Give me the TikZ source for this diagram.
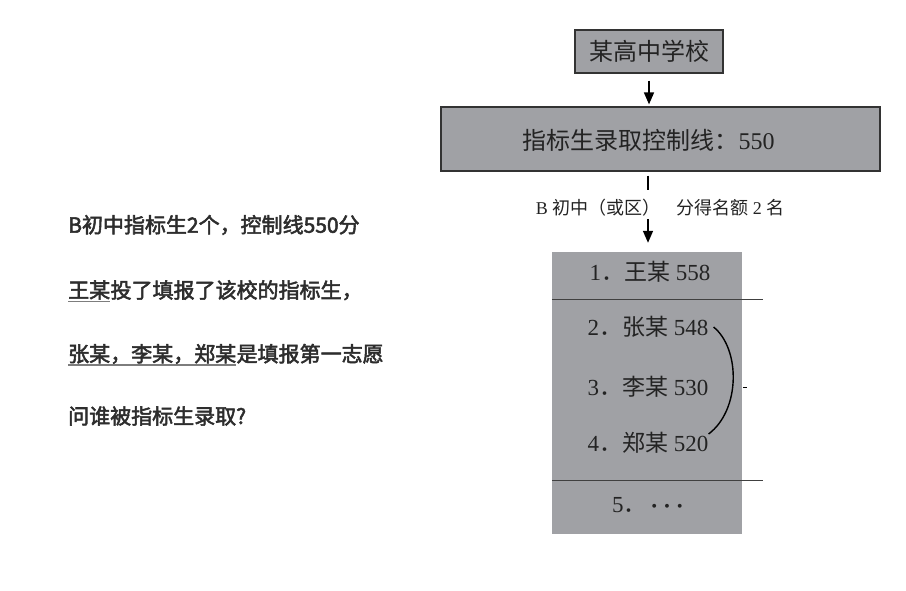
\documentclass[tikz,border=0pt]{standalone}
\usepackage{fontspec}
\setmainfont{Liberation Serif}
\newfontfamily\cjk{Noto Sans CJK SC}
\newfontfamily\cjknote{Noto Sans CJK SC}[FakeBold=2.5]
\usetikzlibrary{positioning,arrows.meta}
\definecolor{boxgray}{RGB}{160,161,165}
\definecolor{inkdark}{RGB}{35,35,35}
\definecolor{notegray}{RGB}{45,45,45}
\definecolor{ulgray}{RGB}{125,125,125}
\newcommand{\zhtext}[1]{{\cjk #1}}
\tikzset{
  box/.style={draw=black!80, line width=1.2pt, fill=boxgray, inner sep=0pt},
  boxtext/.style={inner sep=0pt, text=inkdark, font=\cjk\fontsize{24}{24}\selectfont},
  item/.style={inner sep=0pt, text=inkdark, font=\fontsize{23}{23}\selectfont},
  note/.style={inner sep=0pt, text=notegray, font=\cjknote\fontsize{21}{21}\selectfont},
  link/.style={-{Triangle[length=12pt,width=10pt]}, line width=1.5pt},
  rule/.style={draw=black!75, line width=1.3pt},
  ul/.style={draw=ulgray, line width=1.6pt},
}
\begin{document}
\begin{tikzpicture}[x=1pt,y=-1pt]
\useasboundingbox (0,0) rectangle (906,591);

% question on the left
\node[note, anchor=west] (q1) at (68,225) {B初中指标生2个，控制线550分};
\node[note, anchor=west] (wang) at (68,290) {王某};
\node[note, anchor=base west] (q2) at (wang.base east) {投了填报了该校的指标生，};
\node[note, anchor=west] (names) at (68,354) {张某，李某，郑某};
\node[note, anchor=base west] (q3) at (names.base east) {是填报第一志愿};
\node[note, anchor=west] (q4) at (68,416) {问谁被指标生录取?};
\draw[ul] ([yshift=-3.5pt]wang.base west) -- ([yshift=-3.5pt]wang.base east);
\draw[ul] ([yshift=-3.5pt]names.base west) -- ([yshift=-3.5pt]names.base east);

% flow chart
\node[box, minimum width=148pt, minimum height=43pt] (school) at (649,51.5) {};
\node[boxtext] (schooltext) at (school.center) {某高中学校};
\node[box, minimum width=439pt, minimum height=64pt] (ctrl) at (660.5,139) {};
\node[boxtext] (ctrltext) at (648.5,140) {指标生录取控制线：{\fontspec{Liberation Serif}550}};
\draw[link, shorten <=7pt, shorten >=2pt] (school.south) -- (ctrl.north -| school);

\coordinate (split) at (648,190);
\draw[line width=1.5pt, shorten <=4pt] (ctrl.south -| split) -- (split);
\node[inner sep=0pt, text=inkdark, font=\fontsize{18}{18}\selectfont] (quota) at (660,208)
  {B \zhtext{初中（或区）}\hspace{16pt}\zhtext{分得名额} 2 \zhtext{名}};

% ranking list
\node[fill=boxgray, minimum width=190pt, minimum height=282pt, inner sep=0pt] (list) at (647,393) {};
\draw[link, shorten <=2pt, shorten >=9pt] (quota.south -| split) -- (list.north -| split);
\node[item] (r1) at (650,272) {1\zhtext{．王某} 558};
\node[item] (r2) at (648,327) {2\zhtext{．张某} 548};
\node[item] (r3) at (648,387) {3\zhtext{．李某} 530};
\node[item] (r4) at (648,443) {4\zhtext{．郑某} 520};
\node[item] (r5) at (648,505) {5\zhtext{．}\,{\boldmath$\cdots$}};
\draw[rule] ([yshift=-48pt]list.north west) -- ++(211,0);
\draw[rule] ([yshift=54pt]list.south west) -- ++(211,0);
\draw[line width=1.4pt] ([xshift=5pt]r2.east) .. controls +(27,22) and +(32,-24) .. ([yshift=9pt]r4.east);
\draw[line width=1pt] (list.east |- r3) ++(1,0) -- ++(4,0);
\end{tikzpicture}
\end{document}
